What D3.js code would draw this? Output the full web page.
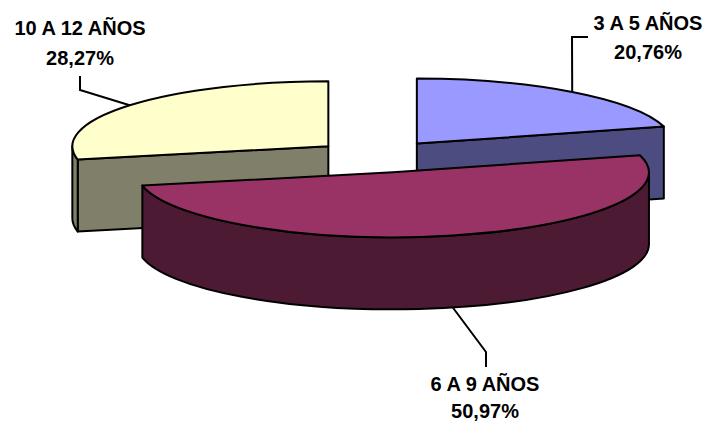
<!DOCTYPE html>
<html>
<head>
<meta charset="utf-8">
<script src="https://cdn.jsdelivr.net/npm/d3@7"></script>
<style>
  html, body { margin: 0; padding: 0; background: #ffffff; }
  svg { display: block; }
  text { font-family: "Liberation Sans", Arial, sans-serif; font-weight: bold; fill: #000; }
</style>
</head>
<body>
<svg id="chart" width="709" height="423"></svg>
<script>
// ---- data ----
const categories = ["3 A 5 AÑOS", "6 A 9 AÑOS", "10 A 12 AÑOS"];
const values = [20.76, 50.97, 28.27];
const topColors = ["#9999FF", "#993366", "#FFFFCC"];
const sideColors = ["#4C4C80", "#4C1A33", "#80806A"];

// ---- layout ----
const W = 709, H = 423;
const cx0 = 378, cy0 = 156.5;   // pie centre (before explosion)
const rx = 256, ry = 65;        // projected ellipse radii
const depth = 72;               // thickness
const explode = 0.25;           // fraction of radius
// label anchors: elbow points after the arc anchor, text x, first baseline y, line gap
const labelLayout = [
  { elbow: [[572, 37], [588, 37]], tx: 648, ty: 30, gap: 29 },
  { elbow: [[486, 352], [486, 367]], tx: 485, ty: 391, gap: 27 },
  { elbow: [[80, 90], [80, 76]], tx: 80, ty: 35, gap: 30 }
];

const svg = d3.select("#chart");
const locale = d3.formatLocale({ decimal: ",", thousands: ".", grouping: [3], currency: ["", ""] });
const fmt = locale.format(".2f");

const pie = d3.pie().sort(null).value(d => d).startAngle(0).endAngle(2 * Math.PI);
const arcs = pie(values);

// projected x/y scale for the ellipse (unit circle -> screen)
const sx = d3.scaleLinear().domain([-1, 1]).range([-rx, rx]);
const sy = d3.scaleLinear().domain([-1, 1]).range([-ry, ry]);

const slices = arcs.map((a, i) => {
  const mid = (a.startAngle + a.endAngle) / 2;
  const cx = cx0 + sx(explode * Math.sin(mid));
  const cy = cy0 - sy(explode * Math.cos(mid));
  return { a, i, mid, cx, cy };
});

function pt(s, t, dz = 0) {
  return [s.cx + sx(Math.sin(t)), s.cy - sy(Math.cos(t)) + dz];
}

function topPath(s) {
  const p0 = pt(s, s.a.startAngle), p1 = pt(s, s.a.endAngle);
  const large = (s.a.endAngle - s.a.startAngle) > Math.PI ? 1 : 0;
  return `M${s.cx},${s.cy}L${p0[0]},${p0[1]}A${rx},${ry} 0 ${large} 1 ${p1[0]},${p1[1]}Z`;
}

function outerSide(s) {
  const a = Math.max(s.a.startAngle, Math.PI / 2);
  const b = Math.min(s.a.endAngle, 3 * Math.PI / 2);
  if (b <= a) return null;
  const p0 = pt(s, a), p1 = pt(s, b), q1 = pt(s, b, depth), q0 = pt(s, a, depth);
  const large = (b - a) > Math.PI ? 1 : 0;
  return `M${p0[0]},${p0[1]}A${rx},${ry} 0 ${large} 1 ${p1[0]},${p1[1]}L${q1[0]},${q1[1]}A${rx},${ry} 0 ${large} 0 ${q0[0]},${q0[1]}Z`;
}

function radialFace(s, t, isStart) {
  const n = isStart ? t - Math.PI / 2 : t + Math.PI / 2;
  if (Math.cos(n) >= -1e-6) return null; // faces away from the viewer
  const p = pt(s, t);
  return `M${s.cx},${s.cy}L${p[0]},${p[1]}L${p[0]},${p[1] + depth}L${s.cx},${s.cy + depth}Z`;
}

// draw order: back slices first
const order = slices.slice().sort((u, v) => (-Math.cos(u.mid)) - (-Math.cos(v.mid)));

const g = svg.append("g");
order.forEach(s => {
  const grp = g.append("g");
  const faces = [radialFace(s, s.a.startAngle, true), radialFace(s, s.a.endAngle, false), outerSide(s)].filter(Boolean);
  faces.forEach(d => {
    grp.append("path").attr("d", d)
      .attr("fill", sideColors[s.i]).attr("stroke", "#000").attr("stroke-width", 2)
      .attr("stroke-linejoin", "round");
  });
  grp.append("path").attr("d", topPath(s))
    .attr("fill", topColors[s.i]).attr("stroke", "#000").attr("stroke-width", 2)
    .attr("stroke-linejoin", "round");
});

// leader lines and labels
slices.forEach(s => {
  const front = Math.cos(s.mid) < 0;
  const anchor = pt(s, s.mid, front ? depth : 0);
  const L = labelLayout[s.i];
  const pts = [anchor].concat(L.elbow);
  svg.append("path")
    .attr("d", d3.line()(pts))
    .attr("fill", "none").attr("stroke", "#000").attr("stroke-width", 2);
  const t = svg.append("text").attr("text-anchor", "middle").attr("font-size", 20);
  t.append("tspan").attr("x", L.tx).attr("y", L.ty).text(categories[s.i]);
  t.append("tspan").attr("x", L.tx).attr("y", L.ty + L.gap).text(fmt(values[s.i]) + "%");
});
</script>
</body>
</html>
